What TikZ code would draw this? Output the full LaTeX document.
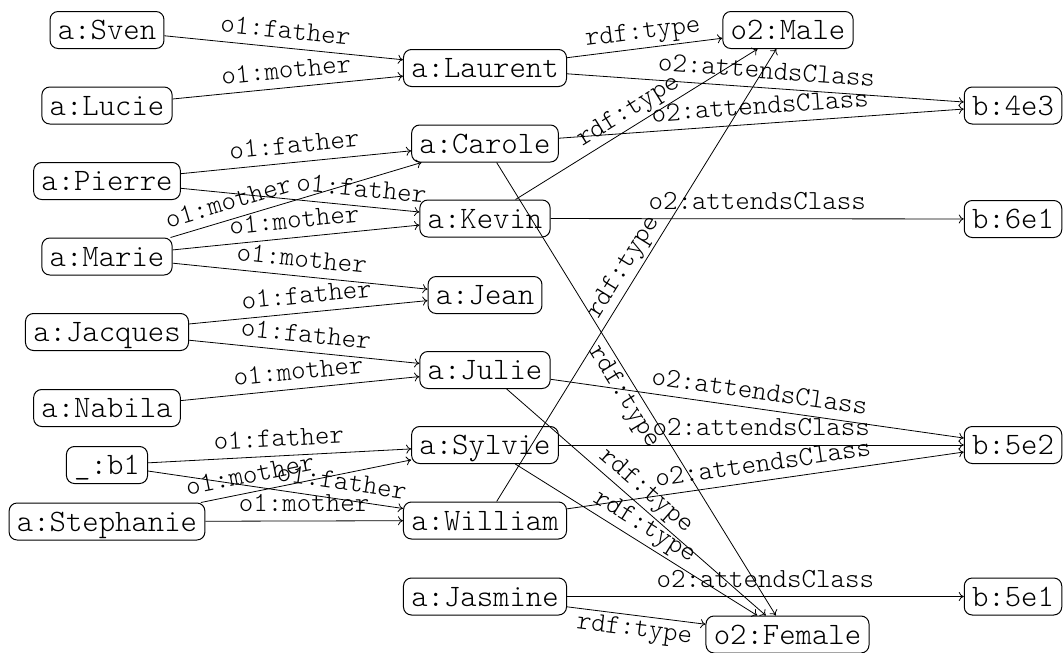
\documentclass[tikz,border=0pt]{standalone}
\usepackage{fontspec}
\setmonofont{Latin Modern Mono Light}
\usetikzlibrary{arrows.meta}
\newcommand\nodefnt{\fontsize{31.2}{36}\selectfont\ttfamily}
\newcommand\lblfnt{\fontsize{27.6}{32}\selectfont\ttfamily}
\begin{document}
\begin{tikzpicture}[x=1pt,y=-1pt,
  box/.style={draw, line width=1pt, rounded corners=8pt, font=\nodefnt,
    inner xsep=7.8pt, inner ysep=0pt, text height=28pt, text depth=9pt},
  conn/.style={draw, line width=0.8pt, -{To[length=5pt,width=9pt]}},
  lab/.style={font=\lblfnt, sloped, above, inner sep=3pt, text depth=6pt}]
\useasboundingbox (0,0) rectangle (1063,653);
% left column
\node[box] (sven)      at (107,30)    {a:Sven};
\node[box] (lucie)     at (107,105.5) {a:Lucie};
\node[box] (pierre)    at (107,181)   {a:Pierre};
\node[box] (marie)     at (107,256.5) {a:Marie};
\node[box] (jacques)   at (107,332)   {a:Jacques};
\node[box] (nabila)    at (107,408)   {a:Nabila};
\node[box] (b1)        at (107,465)   {\_:b1};
\node[box] (stephanie) at (107,521.5) {a:Stephanie};
% middle column
\node[box] (laurent) at (485,68)    {a:Laurent};
\node[box] (carole)  at (485,143.5) {a:Carole};
\node[box] (kevin)   at (485,218.5) {a:Kevin};
\node[box] (jean)    at (485,295)   {a:Jean};
\node[box] (julie)   at (485,370)   {a:Julie};
\node[box] (sylvie)  at (485,445)   {a:Sylvie};
\node[box] (william) at (485,520.5) {a:William};
\node[box] (jasmine) at (485,596.5) {a:Jasmine};
% right
\node[box] (male)   at (788,30)    {o2:Male};
\node[box] (female) at (787.5,634.5) {o2:Female};
\node[box] (b4e3) at (1013,105.5) {b:4e3};
\node[box] (b6e1) at (1013,219)   {b:6e1};
\node[box] (b5e2) at (1013,445)   {b:5e2};
\node[box] (b5e1) at (1013,596.5) {b:5e1};
% edges
\draw[conn] (sven) -- node[lab]{o1:father} (laurent);
\draw[conn] (lucie) -- node[lab]{o1:mother} (laurent);
\draw[conn] (laurent) -- node[lab]{rdf:type} (male);
\draw[conn] (laurent) -- node[lab]{o2:attendsClass} (b4e3);
\draw[conn] (pierre) -- node[lab]{o1:father} (carole);
\draw[conn] (marie) -- node[lab,pos=0.25]{o1:mother} (carole);
\draw[conn] (pierre) -- node[lab,pos=0.75]{o1:father} (kevin);
\draw[conn] (marie) -- node[lab]{o1:mother} (kevin);
\draw[conn] (carole) -- node[lab]{o2:attendsClass} (b4e3);
\draw[conn] (kevin) -- node[lab]{rdf:type} (male);
\draw[conn] (kevin) -- node[lab]{o2:attendsClass} (b6e1);
\draw[conn] (marie) -- node[lab]{o1:mother} (jean);
\draw[conn] (jacques) -- node[lab]{o1:father} (jean);
\draw[conn] (jacques) -- node[lab]{o1:father} (julie);
\draw[conn] (nabila) -- node[lab]{o1:mother} (julie);
\draw[conn] (carole) -- node[lab,below]{rdf:type} (female);
\draw[conn] (william) -- node[lab]{rdf:type} (male);
\draw[conn] (julie) -- node[lab]{o2:attendsClass} (b5e2);
\draw[conn] (julie) -- node[lab]{rdf:type} (female);
\draw[conn] (b1) -- node[lab]{o1:father} (sylvie);
\draw[conn] (stephanie) -- node[lab,pos=0.25]{o1:mother} (sylvie);
\draw[conn] (b1) -- node[lab,pos=0.75]{o1:father} (william);
\draw[conn] (stephanie) -- node[lab]{o1:mother} (william);
\draw[conn] (sylvie) -- node[lab]{o2:attendsClass} (b5e2);
\draw[conn] (sylvie) -- node[lab]{rdf:type} (female);
\draw[conn] (william) -- node[lab]{o2:attendsClass} (b5e2);
\draw[conn] (jasmine) -- node[lab]{o2:attendsClass} (b5e1);
\draw[conn] (jasmine) -- node[lab,below]{rdf:type} (female);
\end{tikzpicture}
\end{document}
